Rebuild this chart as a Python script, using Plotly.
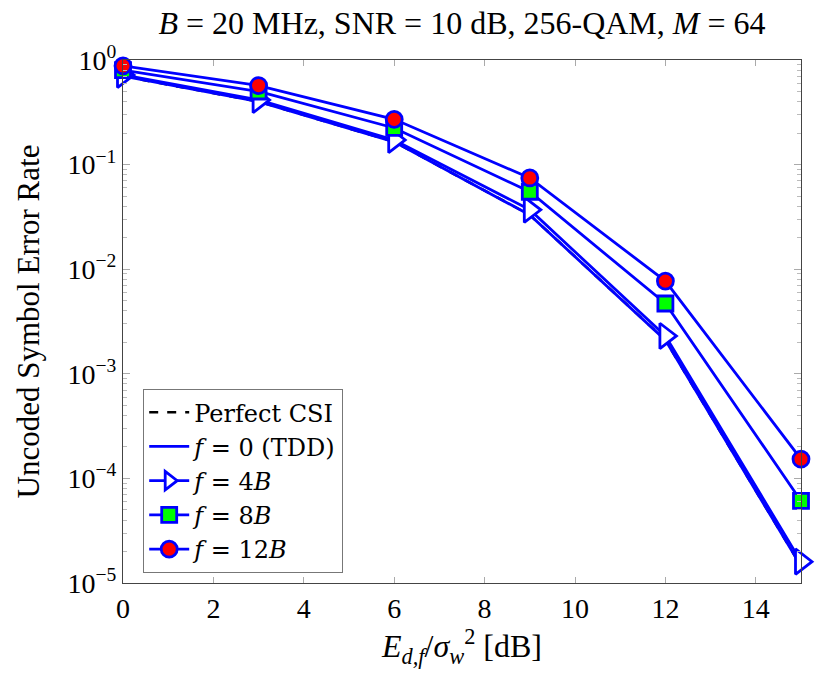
import plotly.graph_objects as go

snr_db = [0, 3, 6, 9, 12, 15]
ser_perfect = [0.70, 0.40, 0.165, 0.033, 0.0021, 1.45e-5]
ser_tdd = [0.70, 0.40, 0.165, 0.033, 0.0021, 1.45e-5]
ser_4b = [0.72, 0.415, 0.172, 0.037, 0.0023, 1.6e-5]
ser_8b = [0.80, 0.50, 0.224, 0.055, 0.0047, 6.1e-5]
ser_12b = [0.88, 0.57, 0.271, 0.0745, 0.0077, 1.53e-4]

ytick_vals = [1, 1e-1, 1e-2, 1e-3, 1e-4, 1e-5]
ytick_text = ["10<sup>0</sup>", "10<sup>−1</sup>", "10<sup>−2</sup>", "10<sup>−3</sup>",
              "10<sup>−4</sup>", "10<sup>−5</sup>"]
xtick_vals = [0, 2, 4, 6, 8, 10, 12, 14]

BLUE = "#0000FF"
FONT = "Liberation Serif"

fig = go.Figure()
fig.add_trace(go.Scatter(x=snr_db, y=ser_perfect, mode="lines", name="Perfect CSI",
                         line=dict(color="black", width=2.5, dash="dash")))
fig.add_trace(go.Scatter(x=snr_db, y=ser_tdd, mode="lines", name="<i>f</i> = 0 (TDD)",
                         line=dict(color=BLUE, width=2.8)))
fig.add_trace(go.Scatter(x=snr_db, y=ser_4b, mode="lines+markers", name="<i>f</i> = 4<i>B</i>",
                         line=dict(color=BLUE, width=2.8),
                         marker=dict(symbol="triangle-right", size=22, color="white",
                                     line=dict(color=BLUE, width=2.8))))
fig.add_trace(go.Scatter(x=snr_db, y=ser_8b, mode="lines+markers", name="<i>f</i> = 8<i>B</i>",
                         line=dict(color=BLUE, width=2.8),
                         marker=dict(symbol="square", size=15, color="#00FF00",
                                     line=dict(color=BLUE, width=2.8))))
fig.add_trace(go.Scatter(x=snr_db, y=ser_12b, mode="lines+markers", name="<i>f</i> = 12<i>B</i>",
                         line=dict(color=BLUE, width=2.8),
                         marker=dict(symbol="circle", size=16, color="#FF0000",
                                     line=dict(color=BLUE, width=2.8))))
fig.update_traces(cliponaxis=False)

fig.update_layout(
    width=816, height=676,
    margin=dict(l=123, r=15, t=60, b=93),
    paper_bgcolor="white", plot_bgcolor="white",
    font=dict(family=FONT, size=28, color="black"),
    title=dict(text="<i>B</i> = 20 MHz, SNR = 10 dB, 256-QAM, <i>M</i> = 64",
               x=0.5, xref="paper", xanchor="center", y=0.967, yref="container",
               yanchor="middle", font=dict(family=FONT, size=32)),
    showlegend=True,
    legend=dict(x=0.0295, y=0.371, xanchor="left", yanchor="top",
                bordercolor="#777777", borderwidth=1.2, bgcolor="white",
                font=dict(family="DejaVu Serif", size=24), tracegroupgap=0, itemwidth=40),
    xaxis=dict(range=[0, 15], tickvals=xtick_vals, ticks="inside", ticklen=6,
               tickcolor="#aaaaaa", showline=True, linecolor="#444444", linewidth=1.2,
               mirror="ticks", showgrid=False, zeroline=False,
               tickfont=dict(family=FONT, size=28),
               title=dict(text="<i>E</i><sub><i>d,f</i></sub>/<i>σ</i><sub><i>w</i></sub><sup>2</sup> [dB]",
                          font=dict(family=FONT, size=32), standoff=6)),
    yaxis=dict(type="log", range=[-5, 0], tickvals=ytick_vals, ticktext=ytick_text,
               ticks="inside", ticklen=7, tickcolor="#aaaaaa",
               minor=dict(ticks="inside", ticklen=4, tickcolor="#bbbbbb", dtick="D1", showgrid=False),
               showline=True, linecolor="#444444", linewidth=1.2, mirror="ticks",
               showgrid=False, zeroline=False,
               tickfont=dict(family=FONT, size=28),
               title=dict(text="Uncoded Symbol Error Rate", font=dict(family=FONT, size=31),
                          standoff=18)),
)

fig.write_html("out.html")
